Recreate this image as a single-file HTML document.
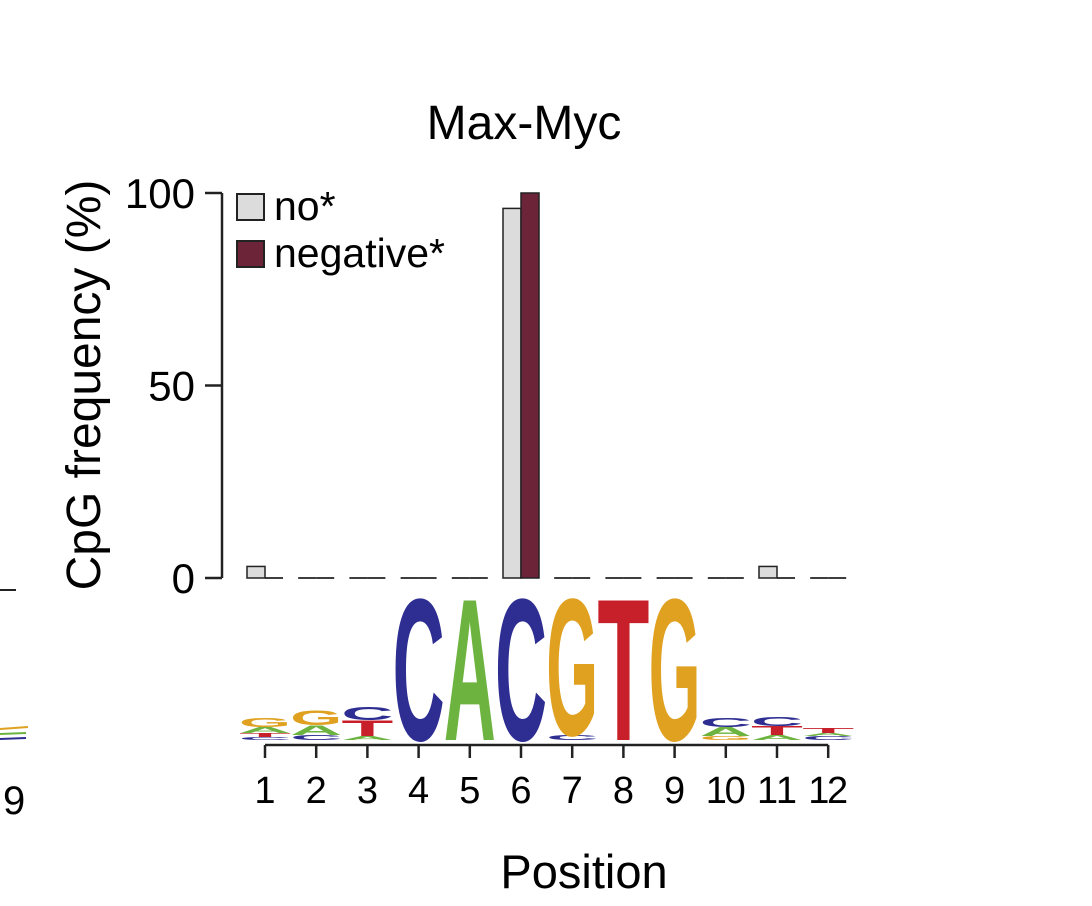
<!DOCTYPE html>
<html><head><meta charset="utf-8"><style>
html,body{margin:0;padding:0;background:#fff;}
svg{display:block;font-family:"Liberation Sans",Arial,sans-serif;}
</style></head><body>
<svg id="chart" width="1092" height="906" viewBox="0 0 1092 906">
<text x="524" y="139" font-size="48" text-anchor="middle">Max-Myc</text>
<text transform="translate(100,385) rotate(-90)" font-size="48" text-anchor="middle">CpG frequency (%)</text>
<text x="584" y="888" font-size="47" text-anchor="middle">Position</text>
<line x1="0" y1="590" x2="16" y2="590" stroke="#222" stroke-width="2"/>
<text x="3" y="814" font-size="40">9</text>
<line x1="0" y1="729" x2="28" y2="727" stroke="#e0a020" stroke-width="2"/>
<line x1="0" y1="734" x2="26" y2="733" stroke="#6db33f" stroke-width="2"/>
<line x1="0" y1="739" x2="26" y2="738" stroke="#2e2e92" stroke-width="2"/>
<g id="legend">
<rect x="237" y="194" width="27" height="26" fill="#dcdcdc" stroke="#222" stroke-width="2"/>
<text x="274" y="220" font-size="41">no*</text>
<rect x="237" y="241" width="27" height="26" fill="#6b2438" stroke="#222" stroke-width="2"/>
<text x="274" y="267" font-size="41">negative*</text>
</g>
<g id="axes"></g><g id="bars"></g><g id="logo"></g>
</svg>
<script>
const positions = [1,2,3,4,5,6,7,8,9,10,11,12];
const noValues = [3,0,0,0,0,96,0,0,0,0,3,0];
const negValues = [0,0,0,0,0,100,0,0,0,0,0,0];
const yTicks = [0,50,100];
// logo stacks bottom->top: [letter, height in px]
const logoStacks = [
 [["C",3],["T",4],["A",6],["G",9]],
 [["C",5],["A",10],["G",15]],
 [["A",4],["T",16],["C",13]],
 [["C",146]],
 [["A",146]],
 [["C",146]],
 [["C",5],["G",141]],
 [["T",146]],
 [["G",146]],
 [["G",4],["A",9],["C",9]],
 [["A",5],["T",9],["C",9]],
 [["C",4],["A",3],["T",5]]
];
const NS="http://www.w3.org/2000/svg";
const xPos = p => 265 + (p-1)*51.2;
const yPos = v => 578 - v*3.85;
const colors = {A:"#6db33f",C:"#2e2e92",G:"#e0a020",T:"#c8202a"};
function mk(tag, attrs, parent){const e=document.createElementNS(NS,tag);for(const k in attrs)e.setAttribute(k,attrs[k]);parent.appendChild(e);return e;}
const axes=document.getElementById('axes');
const ya=mk('line',{x1:222,y1:yPos(100),x2:222,y2:yPos(0),stroke:'#222','stroke-width':2.5},axes);


yTicks.forEach(t=>{
 const l=mk('line',{x1:205,y1:yPos(t),x2:222,y2:yPos(t),stroke:'#222','stroke-width':2.5},axes);
 
 
 const tx=mk('text',{x:195,y:yPos(t)+15,'font-size':42,'text-anchor':'end'},axes);
 tx.textContent=t;
 
 
});
const xa=mk('line',{x1:xPos(1),y1:745,x2:xPos(12),y2:745,stroke:'#222','stroke-width':2.5},axes);


positions.forEach(p=>{
 const l=mk('line',{x1:xPos(p),y1:745,x2:xPos(p),y2:758,stroke:'#222','stroke-width':2.5},axes);
 
 
 const tx=mk('text',{x:xPos(p),y:803,'font-size':38,'text-anchor':'middle'},axes);
 if(p>=10) tx.setAttribute('textLength',40);
 tx.textContent=p;
 
 
});
const bars=document.getElementById('bars');
positions.forEach((p,i)=>{
 [[noValues[i],'#dcdcdc',-18,'no'],[negValues[i],'#6b2438',0,'negative']].forEach(([v,c,off,nm])=>{
  const x=xPos(p)+off;
  if(v>0){
   const r=mk('rect',{x:x,y:yPos(v),width:18,height:yPos(0)-yPos(v),fill:c,stroke:'#222','stroke-width':1.5},bars);
   
   
  } else {
   const l=mk('line',{x1:x,y1:yPos(0),x2:x+18,y2:yPos(0),stroke:'#222','stroke-width':1.8},bars);
   
   
  }
 });
});
const logo=document.getElementById('logo');
positions.forEach((p,i)=>{
 let base=740;
 logoStacks[i].forEach(([L,h])=>{
  const g=mk('g',{transform:`translate(${xPos(p)-26},${base}) scale(1,${h/72})`},logo);
  const t=mk('text',{x:0,y:0,'font-size':100,'font-weight':'bold',fill:colors[L],textLength:52,lengthAdjust:'spacingAndGlyphs'},g);
  t.textContent=L;
  
  
  base-=h;
 });
});
</script>
</body></html>
